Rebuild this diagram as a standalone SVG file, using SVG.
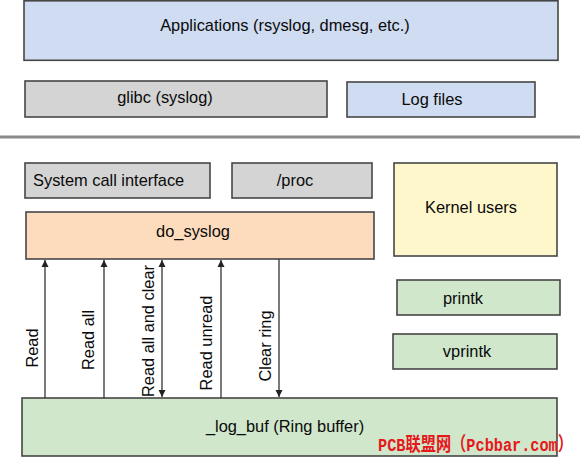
<svg xmlns="http://www.w3.org/2000/svg" width="580" height="458" viewBox="0 0 580 458">
<defs>
<style>
.box{stroke:#464646;stroke-width:1.6}
.blue{fill:#cfdcf1}
.gray{fill:#d4d4d4}
.peach{fill:#fddcbd}
.yellow{fill:#fef7cc}
.green{fill:#d0e7cc}
text{font-family:"Liberation Sans",Arial,sans-serif;font-size:16.4px;fill:#0a0a0a}
.c{text-anchor:middle}
.conn{stroke:#333;stroke-width:1.3;fill:none}
.wm{font-family:"Liberation Mono","Noto Sans CJK SC",monospace;font-size:19px;font-weight:bold;fill:#e5191c}
</style>
<marker id="ah" viewBox="0 0 10 10" refX="10" refY="5" markerWidth="7" markerHeight="9" orient="auto-start-reverse" markerUnits="userSpaceOnUse">
<path d="M0,0 L10,5 L0,10 z" fill="#222"/>
</marker>
</defs>
<rect width="580" height="458" fill="#fff"/>
<g id="applications"><rect class="box blue" x="24" y="0.8" width="534" height="59.5"/><text class="c" x="285" y="31">Applications (rsyslog, dmesg, etc.)</text></g>
<g id="glibc"><rect class="box gray" x="25" y="81" width="302" height="36"/><text class="c" x="165" y="103">glibc (syslog)</text></g>
<g id="logfiles"><rect class="box blue" x="347" y="82" width="188" height="35"/><text class="c" x="432" y="105">Log files</text></g>
<line x1="0" y1="137" x2="580" y2="137" stroke="#8a8a8a" stroke-width="3"/>
<g id="syscall"><rect class="box gray" x="25" y="163" width="185" height="35"/><text x="33" y="186">System call interface</text></g>
<g id="proc"><rect class="box gray" x="232" y="163" width="140" height="35"/><text class="c" x="295" y="186">/proc</text></g>
<g id="do_syslog"><rect class="box peach" x="26" y="212" width="348" height="47"/><text class="c" x="193" y="237">do_syslog</text></g>
<g id="kernelusers"><rect class="box yellow" x="394" y="163" width="163" height="93"/><text class="c" x="471" y="213">Kernel users</text></g>
<g id="printk"><rect class="box green" x="397" y="280" width="163" height="35"/><text class="c" x="463" y="304">printk</text></g>
<g id="vprintk"><rect class="box green" x="393" y="334" width="164" height="35"/><text class="c" x="467" y="357">vprintk</text></g>
<g id="log_buf"><rect class="box green" x="22" y="398" width="535" height="58"/><text class="c" x="285" y="432">_log_buf (Ring buffer)</text></g>
<g id="connectors">
<line class="conn" x1="45" y1="398" x2="45" y2="260" marker-end="url(#ah)"/>
<line class="conn" x1="104" y1="398" x2="104" y2="260" marker-end="url(#ah)"/>
<line class="conn" x1="162" y1="397" x2="162" y2="260" marker-start="url(#ah)" marker-end="url(#ah)"/>
<line class="conn" x1="221" y1="398" x2="221" y2="260" marker-end="url(#ah)"/>
<line class="conn" x1="279" y1="259" x2="279" y2="397" marker-end="url(#ah)"/>
<text class="c" transform="translate(38,348) rotate(-90)">Read</text>
<text class="c" transform="translate(94,340) rotate(-90)">Read all</text>
<text class="c" transform="translate(154,331) rotate(-90)">Read all and clear</text>
<text class="c" transform="translate(212,343) rotate(-90)">Read unread</text>
<text class="c" transform="translate(271,346) rotate(-90)">Clear ring</text>
</g>
<text class="wm" x="378" y="451" textLength="195" lengthAdjust="spacingAndGlyphs">PCB联盟网（Pcbbar.com）</text>
</svg>
